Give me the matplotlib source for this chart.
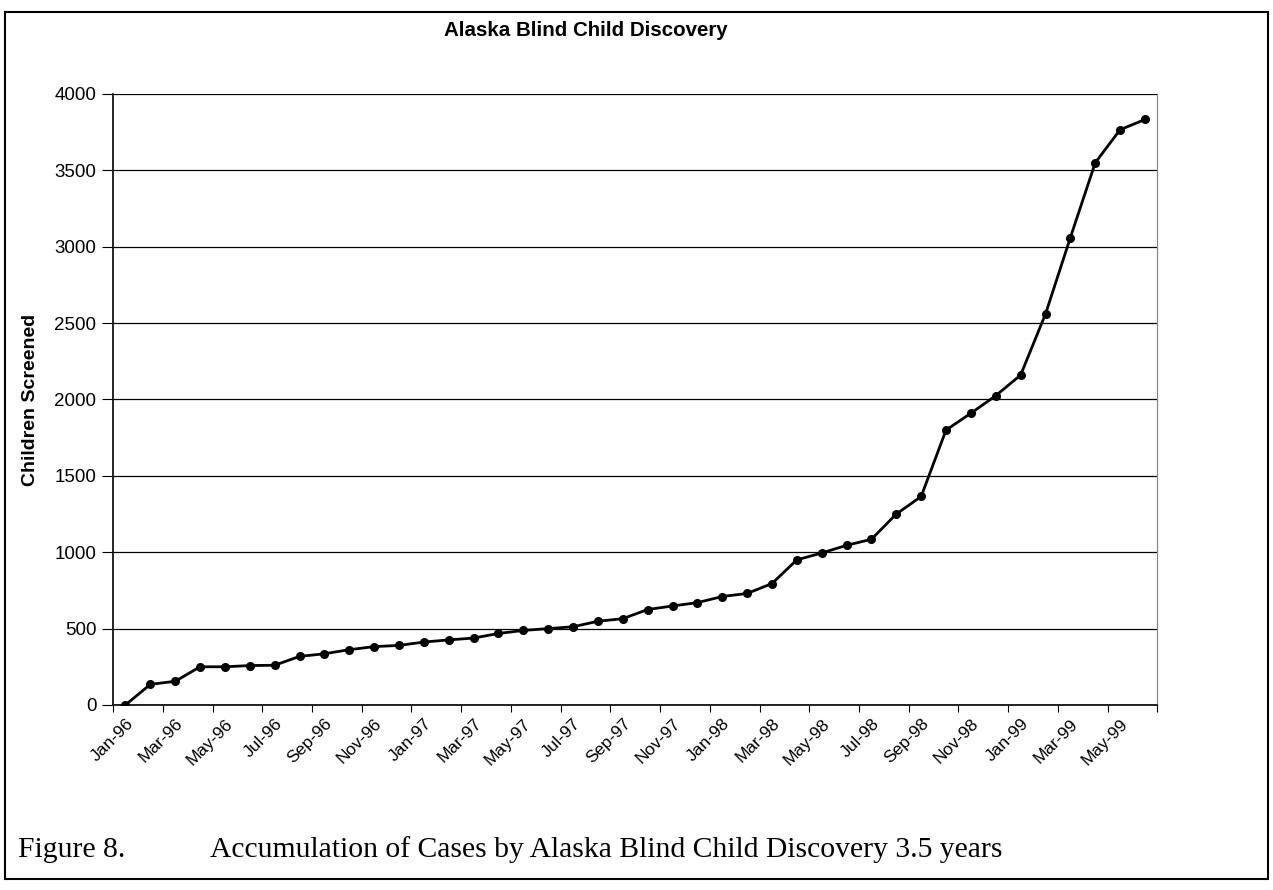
import matplotlib
matplotlib.use("Agg")
import matplotlib.pyplot as plt
from matplotlib.patches import Rectangle

plt.rcParams["font.family"] = ["Liberation Sans", "DejaVu Sans"]

# months Jan-96 .. Jun-99
months = ["Jan", "Feb", "Mar", "Apr", "May", "Jun", "Jul", "Aug", "Sep", "Oct", "Nov", "Dec"]
labels = []
for yr in ["96", "97", "98"]:
    for m in months:
        labels.append(m + "-" + yr)
for m in months[:6]:
    labels.append(m + "-99")

screened = [0, 135, 155, 250, 250, 258, 260, 318, 335, 362, 382, 390,
            412, 426, 438, 468, 488, 500, 512, 548, 565, 625, 648, 670,
            710, 730, 795, 950, 995, 1045, 1085, 1250, 1365, 1800, 1910, 2025,
            2160, 2560, 3060, 3550, 3766, 3833]

yticks = [0, 500, 1000, 1500, 2000, 2500, 3000, 3500, 4000]

fig = plt.figure(figsize=(12.73, 8.9), dpi=100)
ax = fig.add_axes([0.0888, 0.2079, 0.8204, 0.6865])

x = list(range(len(screened)))
ax.plot(x, screened, color="black", lw=2.0, marker="o", ms=5.5, zorder=3)

ax.set_xlim(-0.5, len(screened) - 0.5)
ax.set_ylim(0, 4000)
ax.set_yticks(yticks)
ax.set_yticklabels([str(v) for v in yticks], fontsize=13.5)
ax.yaxis.grid(True, color="black", lw=0.9)
ax.set_axisbelow(True)

# category ticks between months, every 2nd one; labels on even months
ax.set_xticks([i - 0.5 for i in range(0, len(screened) + 1, 2)])
ax.set_xticklabels([])
ax.set_xticks(x[::2], minor=True)
ax.set_xticklabels(labels[::2], minor=True, rotation=45, ha="right",
                   rotation_mode="anchor", fontsize=12.5)
ax.tick_params(axis="x", which="minor", length=0, pad=8)
ax.tick_params(axis="x", which="major", length=5, direction="out")
ax.tick_params(axis="y", length=8, direction="out", pad=4)

for s in ["left", "bottom"]:
    ax.spines[s].set_linewidth(1.2)
ax.spines["top"].set_visible(False)
ax.spines["right"].set_color("#888888")
ax.spines["right"].set_linewidth(0.9)

ax.set_ylabel("Children Screened", fontsize=14, fontweight="bold", labelpad=11)

fig.text(0.46, 0.966, "Alaska Blind Child Discovery", fontsize=14.8,
         fontweight="bold", ha="center", va="center")

fig.text(0.014, 0.037, "Figure 8.", fontsize=21.3, family="Liberation Serif",
         ha="left", va="baseline")
fig.text(0.165, 0.037, "Accumulation of Cases by Alaska Blind Child Discovery 3.5 years",
         fontsize=21.3, family="Liberation Serif", ha="left", va="baseline")

fig.patches.append(Rectangle((0.004, 0.012), 0.992, 0.975, transform=fig.transFigure,
                             fill=False, edgecolor="black", lw=1.5))

fig.savefig("out.png", dpi=100)
